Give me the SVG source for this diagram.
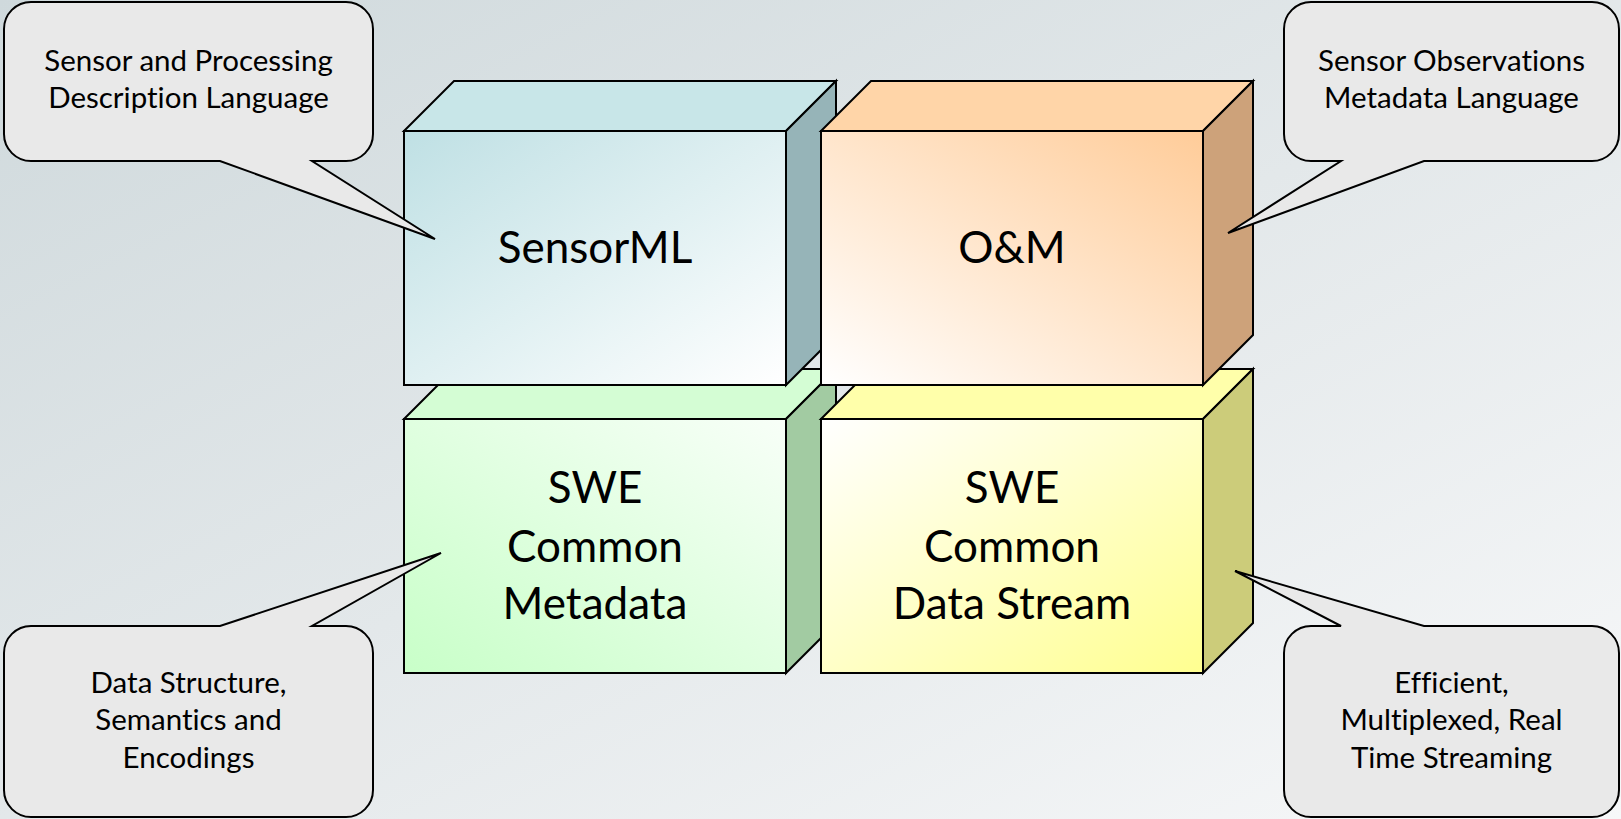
<svg xmlns="http://www.w3.org/2000/svg" width="1621" height="819" viewBox="0 0 1621 819">
  <defs>
    <linearGradient id="bg" x1="0" y1="0" x2="1" y2="1">
      <stop offset="0" stop-color="#cfd9dc"/>
      <stop offset="0.5" stop-color="#e3e8ea"/>
      <stop offset="1" stop-color="#f7f8f9"/>
    </linearGradient>
    <linearGradient id="gSml" x1="0" y1="0" x2="1" y2="1">
      <stop offset="0" stop-color="#bfe0e4"/>
      <stop offset="1" stop-color="#ffffff"/>
    </linearGradient>
    <linearGradient id="gOm" x1="1" y1="0" x2="0" y2="1">
      <stop offset="0" stop-color="#ffcc99"/>
      <stop offset="1" stop-color="#ffffff"/>
    </linearGradient>
    <linearGradient id="gMeta" x1="0" y1="1" x2="1" y2="0">
      <stop offset="0" stop-color="#c8ffc8"/>
      <stop offset="1" stop-color="#f8fff8"/>
    </linearGradient>
    <linearGradient id="gStream" x1="0" y1="0" x2="1" y2="1">
      <stop offset="0" stop-color="#ffffff"/>
      <stop offset="1" stop-color="#ffff90"/>
    </linearGradient>
    <style>
      .edge { stroke: #000; stroke-width: 2; stroke-linejoin: miter; }
      .callout { fill: #e9e9e9; stroke: #000; stroke-width: 2; stroke-linejoin: miter; }
      text { font-family: Lato, "Liberation Sans", sans-serif; fill: #000; text-anchor: middle; font-variant-ligatures: none; }
      .note { font-size: 29.5px; }
      .label { font-size: 44px; }
    </style>
  </defs>

  <rect x="0" y="0" width="1621" height="819" fill="url(#bg)"/>

  <!-- lower row of blocks (drawn first, partly hidden by upper row) -->
  <g id="swe-common-metadata">
    <polygon class="edge" fill="#d4fdd4" points="404,419 454,369 836,369 786,419"/>
    <polygon class="edge" fill="#a2cba2" points="786,419 836,369 836,623 786,673"/>
    <rect class="edge" x="404" y="419" width="382" height="254" fill="url(#gMeta)"/>
    <text class="label" x="595" y="503">SWE</text>
    <text class="label" x="595" y="562">Common</text>
    <text class="label" x="595" y="619">Metadata</text>
  </g>

  <g id="swe-common-data-stream">
    <polygon class="edge" fill="#ffffaa" points="821,419 871,369 1253,369 1203,419"/>
    <polygon class="edge" fill="#cccc7a" points="1203,419 1253,369 1253,623 1203,673"/>
    <rect class="edge" x="821" y="419" width="382" height="254" fill="url(#gStream)"/>
    <text class="label" x="1012" y="503">SWE</text>
    <text class="label" x="1012" y="562">Common</text>
    <text class="label" x="1012" y="619">Data Stream</text>
  </g>

  <!-- upper row of blocks -->
  <g id="sensorml">
    <polygon class="edge" fill="#c8e6e8" points="404,131 454,81 836,81 786,131"/>
    <polygon class="edge" fill="#96b4b8" points="786,131 836,81 836,335 786,385"/>
    <rect class="edge" x="404" y="131" width="382" height="254" fill="url(#gSml)"/>
    <text class="label" x="595" y="263">SensorML</text>
  </g>

  <g id="om">
    <polygon class="edge" fill="#ffd5a8" points="821,131 871,81 1253,81 1203,131"/>
    <polygon class="edge" fill="#cda27a" points="1203,131 1253,81 1253,335 1203,385"/>
    <rect class="edge" x="821" y="131" width="382" height="254" fill="url(#gOm)"/>
    <text class="label" x="1012" y="263">O&amp;M</text>
  </g>

  <!-- speech-bubble callouts, tails pointing at the blocks -->
  <g id="connectors">
    <g id="note-sensorml">
      <path class="callout" d="M31,2 H346 A27,27 0 0 1 373,29 V134 A27,27 0 0 1 346,161 H312 L435,239 L220,161 H31 A27,27 0 0 1 4,134 V29 A27,27 0 0 1 31,2 Z"/>
      <text class="note" x="188.5" y="71">Sensor and Processing</text>
      <text class="note" x="188.5" y="108">Description Language</text>
    </g>
    <g id="note-om">
      <path class="callout" d="M1311,2 H1592 A27,27 0 0 1 1619,29 V134 A27,27 0 0 1 1592,161 H1424 L1228,233 L1341,161 H1311 A27,27 0 0 1 1284,134 V29 A27,27 0 0 1 1311,2 Z"/>
      <text class="note" x="1451.5" y="71">Sensor Observations</text>
      <text class="note" x="1451.5" y="108">Metadata Language</text>
    </g>
    <g id="note-metadata">
      <path class="callout" d="M31,626 H220 L441,553 L312,626 H346 A27,27 0 0 1 373,653 V790 A27,27 0 0 1 346,817 H31 A27,27 0 0 1 4,790 V653 A27,27 0 0 1 31,626 Z"/>
      <text class="note" x="188.5" y="693">Data Structure,</text>
      <text class="note" x="188.5" y="730">Semantics and</text>
      <text class="note" x="188.5" y="768">Encodings</text>
    </g>
    <g id="note-stream">
      <path class="callout" d="M1311,626 H1341 L1235,571 L1424,626 H1592 A27,27 0 0 1 1619,653 V790 A27,27 0 0 1 1592,817 H1311 A27,27 0 0 1 1284,790 V653 A27,27 0 0 1 1311,626 Z"/>
      <text class="note" x="1451.5" y="693">Efficient,</text>
      <text class="note" x="1451.5" y="730">Multiplexed, Real</text>
      <text class="note" x="1451.5" y="768">Time Streaming</text>
    </g>
  </g>
</svg>
